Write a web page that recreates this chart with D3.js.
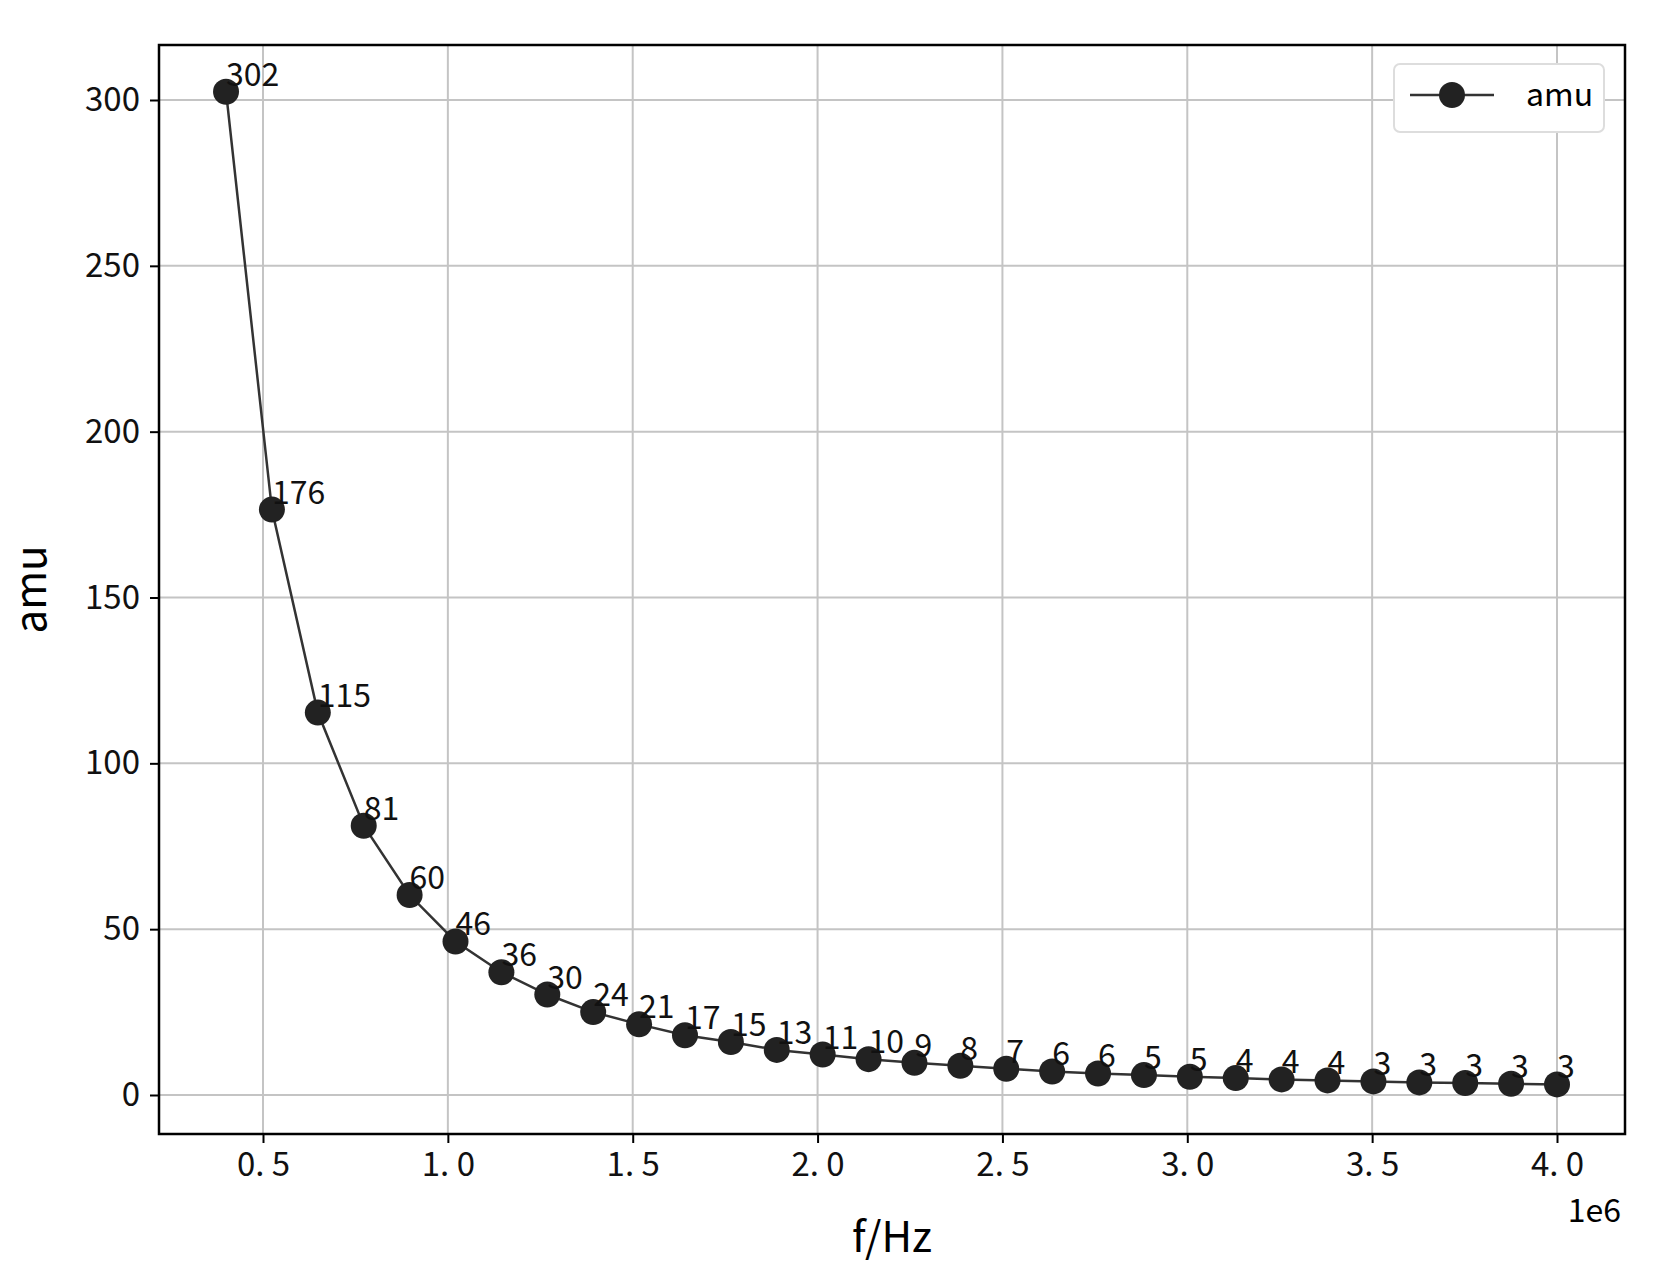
<!DOCTYPE html>
<html lang="en">
<head>
<meta charset="UTF-8">
<script src="https://d3js.org/d3.v7.min.js"></script>
<style>
  body { margin: 0; background: #fff; }
  text { font-family: "Noto Sans CJK SC", "DejaVu Sans", sans-serif; }
</style>
</head>
<body>
<div id="chart"></div>
<script>
// frequency in units of 1e6 Hz
const freq = d3.range(30).map(i => 0.4 + i * 3.6 / 29);
const amu = [302.5, 176.5, 115.3, 81.2, 60.3, 46.3, 37.0, 30.3, 25.0, 21.3,
             18.0, 16.0, 13.6, 12.2, 10.8, 9.7, 8.8, 7.9, 7.1, 6.5,
             6.0, 5.5, 5.1, 4.7, 4.4, 4.1, 3.8, 3.6, 3.4, 3.2];
const labels = ["302","176","115","81","60","46","36","30","24","21",
                "17","15","13","11","10","9","8","7","6","6",
                "5","5","4","4","4","3","3","3","3","3"];
const xTicks = [0.5, 1.0, 1.5, 2.0, 2.5, 3.0, 3.5, 4.0];
const yTicks = [0, 50, 100, 150, 200, 250, 300];

const width = 1665, height = 1280;
const pLeft = 159, pRight = 1625, pTop = 45, pBottom = 1134;

const x = d3.scaleLinear().domain([0.5, 4.0]).range([263, 1557]);
const y = d3.scaleLinear().domain([0, 300]).range([1095, 100]);

const svg = d3.select("#chart").append("svg")
    .attr("width", width).attr("height", height);

// grid
svg.append("g").selectAll("line").data(xTicks).join("line")
    .attr("x1", d => x(d)).attr("x2", d => x(d))
    .attr("y1", pTop).attr("y2", pBottom)
    .attr("stroke", "#c4c4c4").attr("stroke-width", 2);
svg.append("g").selectAll("line").data(yTicks).join("line")
    .attr("y1", d => y(d)).attr("y2", d => y(d))
    .attr("x1", pLeft).attr("x2", pRight)
    .attr("stroke", "#c4c4c4").attr("stroke-width", 2);

// axes
svg.append("g").attr("transform", `translate(0,${pBottom})`)
    .call(d3.axisBottom(x).tickValues(xTicks).tickFormat(d => d.toFixed(1).replace(".", ". ")).tickSize(9).tickPadding(10))
    .call(g => g.select(".domain").remove())
    .call(g => g.selectAll("line").attr("stroke", "#000").attr("stroke-width", 2))
    .call(g => g.selectAll("text").attr("font-size", 33).attr("fill", "#111")
        .attr("font-family", "\"Noto Sans CJK SC\", sans-serif"));
svg.append("g").attr("transform", `translate(${pLeft},0)`)
    .call(d3.axisLeft(y).tickValues(yTicks).tickSize(9).tickPadding(10))
    .call(g => g.select(".domain").remove())
    .call(g => g.selectAll("line").attr("stroke", "#000").attr("stroke-width", 2))
    .call(g => g.selectAll("text").attr("font-size", 33).attr("fill", "#111")
        .attr("font-family", "\"Noto Sans CJK SC\", sans-serif"));

svg.append("rect").attr("x", pLeft).attr("y", pTop)
    .attr("width", pRight - pLeft).attr("height", pBottom - pTop)
    .attr("fill", "none").attr("stroke", "#000").attr("stroke-width", 2.5);

// line + markers
const pts = freq.map((f, i) => [f, amu[i]]);
svg.append("path").datum(pts)
    .attr("d", d3.line().x(d => x(d[0])).y(d => y(d[1])))
    .attr("fill", "none").attr("stroke", "#333").attr("stroke-width", 2.5);
svg.append("g").selectAll("circle").data(pts).join("circle")
    .attr("cx", d => x(d[0])).attr("cy", d => y(d[1])).attr("r", 13)
    .attr("fill", "#222");
svg.append("g").selectAll("text").data(pts).join("text")
    .attr("x", d => x(d[0])).attr("y", d => y(d[1]) - 6)
    .attr("font-size", 32).attr("fill", "#111")
    .text((d, i) => labels[i]);

// axis titles
svg.append("text").attr("x", (pLeft + pRight) / 2).attr("y", 1252)
    .attr("text-anchor", "middle").attr("font-size", 42).text("f/Hz");
svg.append("text").attr("transform", `translate(46,${(pTop + pBottom) / 2}) rotate(-90)`)
    .attr("text-anchor", "middle").attr("font-size", 42).text("amu");
svg.append("text").attr("x", pRight - 4).attr("y", 1222)
    .attr("text-anchor", "end").attr("font-size", 32).text("1e6");

// legend
const lg = svg.append("g");
lg.append("rect").attr("x", 1394).attr("y", 64).attr("width", 210).attr("height", 68)
    .attr("rx", 6).attr("fill", "#fff").attr("stroke", "#ddd").attr("stroke-width", 2);
lg.append("line").attr("x1", 1410).attr("x2", 1494).attr("y1", 95).attr("y2", 95)
    .attr("stroke", "#333").attr("stroke-width", 2.5);
lg.append("circle").attr("cx", 1452).attr("cy", 95).attr("r", 13).attr("fill", "#222");
lg.append("text").attr("x", 1526).attr("y", 106).attr("font-size", 32).text("amu");
</script>
</body>
</html>
